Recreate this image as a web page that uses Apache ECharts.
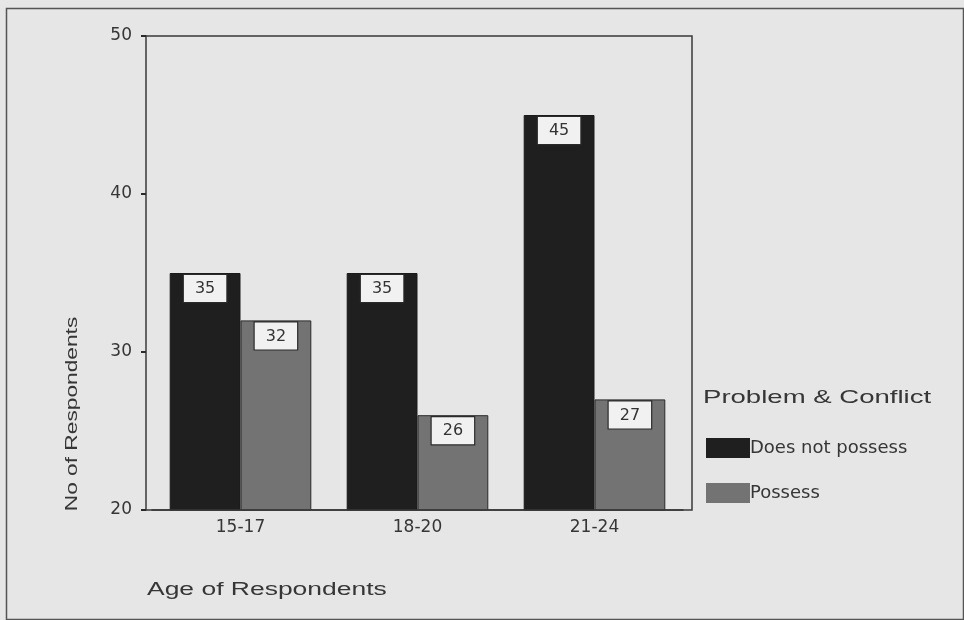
<!DOCTYPE html>
<html>
<head>
<meta charset="utf-8">
<script src="https://cdn.jsdelivr.net/npm/echarts@6/dist/echarts.min.js"></script>
<style>
  html, body { margin: 0; padding: 0; background: #e6e6e6; }
  #chart { width: 964px; height: 620px; }
</style>
</head>
<body>
<div id="chart"></div>
<script>
// Age groups and respondent counts by "Problem & Conflict" skill
const categories = ['15-17', '18-20', '21-24'];
const doesNotPossess = [35, 35, 45];
const possess = [32, 26, 27];
const seriesNames = ['Does not possess', 'Possess'];
const yTicks = { min: 20, max: 50, interval: 10 };

const SANS = '"Liberation Sans", Arial, sans-serif';
const WIDE = '"DejaVu Sans", Verdana, sans-serif';
const TEXT = '#363636';

const chart = echarts.init(document.getElementById('chart'), null, { renderer: 'canvas' });

const valueLabel = {
  show: true,
  position: 'insideTop',
  distance: 2,
  fontFamily: WIDE,
  fontSize: 16,
  lineHeight: 18,
  color: '#333',
  backgroundColor: '#f1f1f1',
  borderColor: '#2a2a2a',
  borderWidth: 1.2,
  padding: [5, 11, 4, 11]
};

// Wide, stretched title text drawn as graphic elements
function wideText(x, y, text, size, scale, rotation) {
  return {
    type: 'text', x: x, y: y, silent: true,
    rotation: rotation || 0, scaleX: scale, scaleY: 1,
    style: {
      text: text, fontFamily: SANS, fontSize: size, fill: TEXT,
      align: rotation ? 'center' : 'left', verticalAlign: 'middle'
    }
  };
}

chart.setOption({
  backgroundColor: '#e6e6e6',
  animation: false,
  grid: {
    left: 152, right: 281, top: 36, bottom: 110,
    show: false
  },
  legend: {
    orient: 'vertical',
    left: 701, top: 433,
    itemWidth: 44, itemHeight: 20, itemGap: 25,
    icon: 'rect',
    itemStyle: { borderWidth: 0 },
    textStyle: { fontFamily: WIDE, fontSize: 18, color: TEXT, padding: [0, 0, 0, -5] },
    data: seriesNames
  },
  xAxis: {
    type: 'category',
    data: categories,
    axisLine: { lineStyle: { color: '#2a2a2a', width: 1.5 } },
    axisTick: { alignWithLabel: true, length: 4, lineStyle: { color: '#2a2a2a', width: 2 } },
    axisLabel: { fontFamily: WIDE, fontSize: 17, color: TEXT, margin: 9 }
  },
  yAxis: {
    type: 'value',
    offset: 6,
    min: yTicks.min, max: yTicks.max, interval: yTicks.interval,
    splitLine: { show: false },
    axisLine: { show: true, lineStyle: { color: '#3a3a3a', width: 1.5 } },
    axisTick: { show: true, length: 5, lineStyle: { color: '#2a2a2a', width: 2 } },
    axisLabel: { fontFamily: WIDE, fontSize: 17, color: TEXT, margin: 14 }
  },
  series: [
    {
      name: seriesNames[0], type: 'bar', data: doesNotPossess,
      barGap: '0%', barCategoryGap: '20%',
      itemStyle: { color: '#1f1f1f', borderColor: '#1a1a1a', borderWidth: 1 },
      label: valueLabel
    },
    {
      name: seriesNames[1], type: 'bar', data: possess,
      itemStyle: { color: '#737373', borderColor: '#2a2a2a', borderWidth: 1 },
      label: valueLabel
    }
  ],
  graphic: [
    {
      type: 'rect', left: 4, top: 6, silent: true,
      shape: { width: 957, height: 611 },
      style: { fill: 'none', stroke: '#555', lineWidth: 1.5 }
    },
    {
      // plot frame: top and right edges plus the base line
      type: 'polyline', silent: true, z: 5,
      shape: { points: [[146, 36], [692, 36], [692, 510], [146, 510]] },
      style: { fill: 'none', stroke: '#3a3a3a', lineWidth: 1.5 }
    },
    wideText(73, 414, 'No of Respondents', 16, 1.42, Math.PI / 2),
    wideText(147, 590, 'Age of Respondents', 18, 1.47),
    wideText(703, 398, 'Problem & Conflict', 19, 1.45)
  ]
});
</script>
</body>
</html>
